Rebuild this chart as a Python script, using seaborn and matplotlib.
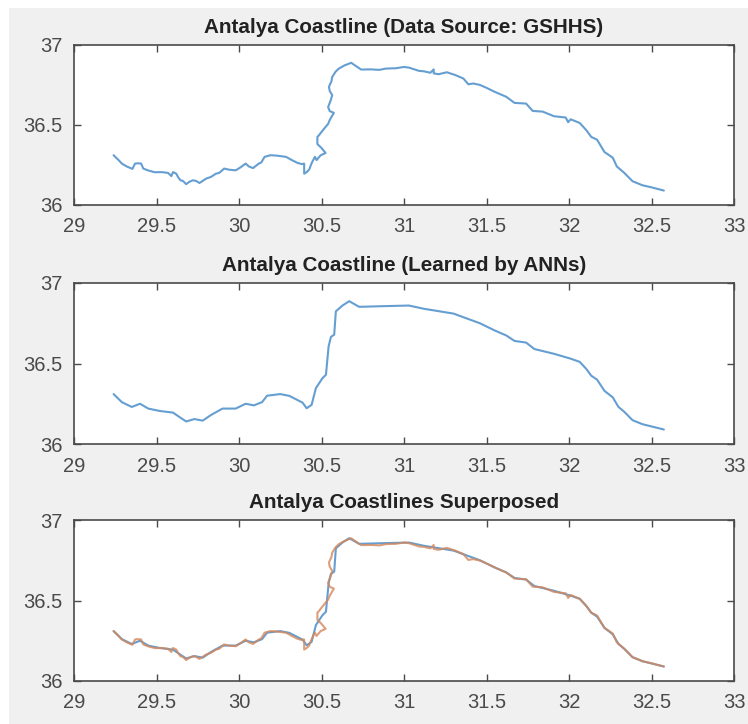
import matplotlib
matplotlib.use("Agg")
import matplotlib.pyplot as plt
from matplotlib.patches import Rectangle
import pandas as pd
import seaborn as sns

raw_lon = [29.24, 29.27, 29.29, 29.32, 29.354, 29.37, 29.385, 29.407, 29.42, 29.45, 29.49, 29.53, 29.57, 29.59, 29.60, 29.62, 29.63, 29.645, 29.66, 29.68, 29.70, 29.72, 29.74, 29.76, 29.78, 29.80, 29.83, 29.86, 29.88, 29.91, 29.94, 29.98, 30.01, 30.04, 30.06, 30.085, 30.12, 30.135, 30.155, 30.19, 30.225, 30.285, 30.32, 30.355, 30.38, 30.395, 30.395, 30.41, 30.425, 30.44, 30.46, 30.47, 30.495, 30.525, 30.50, 30.475, 30.475, 30.485, 30.50, 30.525, 30.54, 30.55, 30.575, 30.55, 30.54, 30.555, 30.565, 30.55, 30.545, 30.56, 30.565, 30.585, 30.605, 30.64, 30.68, 30.71, 30.74, 30.80, 30.85, 30.89, 30.95, 31.0, 31.03, 31.09, 31.12, 31.16, 31.18, 31.18, 31.21, 31.26, 31.31, 31.36, 31.39, 31.42, 31.46, 31.50, 31.55, 31.62, 31.67, 31.74, 31.78, 31.84, 31.91, 31.98, 31.995, 32.01, 32.065, 32.105, 32.135, 32.17, 32.215, 32.265, 32.29, 32.335, 32.385, 32.445, 32.50, 32.575]
raw_lat = [36.31, 36.28, 36.258, 36.24, 36.225, 36.258, 36.26, 36.258, 36.227, 36.215, 36.204, 36.205, 36.2, 36.18, 36.205, 36.195, 36.175, 36.154, 36.15, 36.13, 36.145, 36.154, 36.15, 36.137, 36.15, 36.164, 36.175, 36.195, 36.2, 36.227, 36.22, 36.216, 36.235, 36.258, 36.24, 36.23, 36.258, 36.265, 36.3, 36.31, 36.308, 36.3, 36.28, 36.262, 36.255, 36.258, 36.195, 36.205, 36.22, 36.26, 36.3, 36.28, 36.31, 36.324, 36.355, 36.38, 36.424, 36.435, 36.455, 36.487, 36.505, 36.53, 36.574, 36.585, 36.61, 36.65, 36.684, 36.71, 36.736, 36.77, 36.798, 36.83, 36.85, 36.87, 36.886, 36.865, 36.844, 36.845, 36.842, 36.85, 36.852, 36.86, 36.856, 36.836, 36.833, 36.824, 36.845, 36.82, 36.815, 36.827, 36.81, 36.788, 36.752, 36.757, 36.748, 36.73, 36.705, 36.674, 36.636, 36.632, 36.586, 36.582, 36.553, 36.545, 36.516, 36.534, 36.511, 36.466, 36.424, 36.407, 36.33, 36.295, 36.24, 36.2, 36.148, 36.123, 36.11, 36.09]

learned_lon = [29.24, 29.29, 29.35, 29.40, 29.45, 29.52, 29.60, 29.65, 29.68, 29.73, 29.78, 29.83, 29.90, 29.98, 30.04, 30.09, 30.14, 30.17, 30.25, 30.305, 30.385, 30.41, 30.44, 30.466, 30.506, 30.527, 30.543, 30.557, 30.577, 30.587, 30.627, 30.668, 30.728, 30.869, 31.03, 31.12, 31.21, 31.30, 31.38, 31.46, 31.55, 31.62, 31.67, 31.74, 31.79, 31.91, 32.01, 32.065, 32.105, 32.135, 32.17, 32.215, 32.265, 32.30, 32.335, 32.385, 32.445, 32.575]
learned_lat = [36.31, 36.26, 36.23, 36.25, 36.22, 36.205, 36.195, 36.16, 36.14, 36.155, 36.145, 36.18, 36.22, 36.22, 36.25, 36.24, 36.26, 36.3, 36.31, 36.299, 36.257, 36.222, 36.243, 36.347, 36.409, 36.43, 36.606, 36.665, 36.679, 36.824, 36.86, 36.887, 36.852, 36.856, 36.86, 36.84, 36.825, 36.81, 36.78, 36.75, 36.705, 36.674, 36.64, 36.63, 36.59, 36.56, 36.53, 36.51, 36.466, 36.424, 36.4, 36.33, 36.29, 36.23, 36.2, 36.148, 36.123, 36.09]

titles = ["Antalya Coastline (Data Source: GSHHS)",
          "Antalya Coastline (Learned by ANNs)",
          "Antalya Coastlines Superposed"]
x_ticks = [29, 29.5, 30, 30.5, 31, 31.5, 32, 32.5, 33]
x_labels = ["29", "29.5", "30", "30.5", "31", "31.5", "32", "32.5", "33"]
y_ticks = [36, 36.5, 37]
y_labels = ["36", "36.5", "37"]

BLUE = "#3f86c6"
ORANGE = "#d5875a"
GREY = "#4a4a4a"

sns.set_theme(style="white")
plt.rcParams["font.family"] = ["Liberation Sans", "DejaVu Sans"]

raw = pd.DataFrame({"lon": raw_lon, "lat": raw_lat})
learned = pd.DataFrame({"lon": learned_lon, "lat": learned_lat})

W, H = 748, 724
fig = plt.figure(figsize=(W / 100, H / 100), dpi=100, facecolor="white")
fig.add_artist(Rectangle((9 / W, 0), 1, 1 - 8 / H, transform=fig.transFigure,
                         facecolor="#f0f0f0", edgecolor="none", zorder=-10))

boxes = [(44.5, 205), (283, 444), (520, 681)]
layers = [[(raw, BLUE)], [(learned, BLUE)], [(learned, BLUE), (raw, ORANGE)]]

for (top, bottom), title, layer in zip(boxes, titles, layers):
    ax = fig.add_axes([74 / W, 1 - bottom / H, 660 / W, (bottom - top) / H])
    ax.set_facecolor("white")
    for data, color in layer:
        sns.lineplot(data=data, x="lon", y="lat", ax=ax, sort=False, estimator=None,
                     color=color, linewidth=1.5, alpha=0.8, solid_joinstyle="round")
    ax.set_xlim(29, 33)
    ax.set_ylim(36, 37)
    ax.set_xticks(x_ticks, x_labels)
    ax.set_yticks(y_ticks, y_labels)
    ax.set_xlabel("")
    ax.set_ylabel("")
    ax.tick_params(axis="both", which="major", direction="in", length=5, width=1,
                   top=True, right=True, bottom=True, left=True,
                   labelsize=14.5, labelcolor=GREY, color=GREY)
    ax.tick_params(axis="x", pad=9)
    ax.tick_params(axis="y", pad=8)
    for s in ax.spines.values():
        s.set_visible(True)
        s.set_color(GREY)
        s.set_linewidth(1.2)
    ax.set_title(title, fontsize=14.9, fontweight="bold", color="#222222", pad=8.5)

fig.savefig("out.png", dpi=100, facecolor="white")
